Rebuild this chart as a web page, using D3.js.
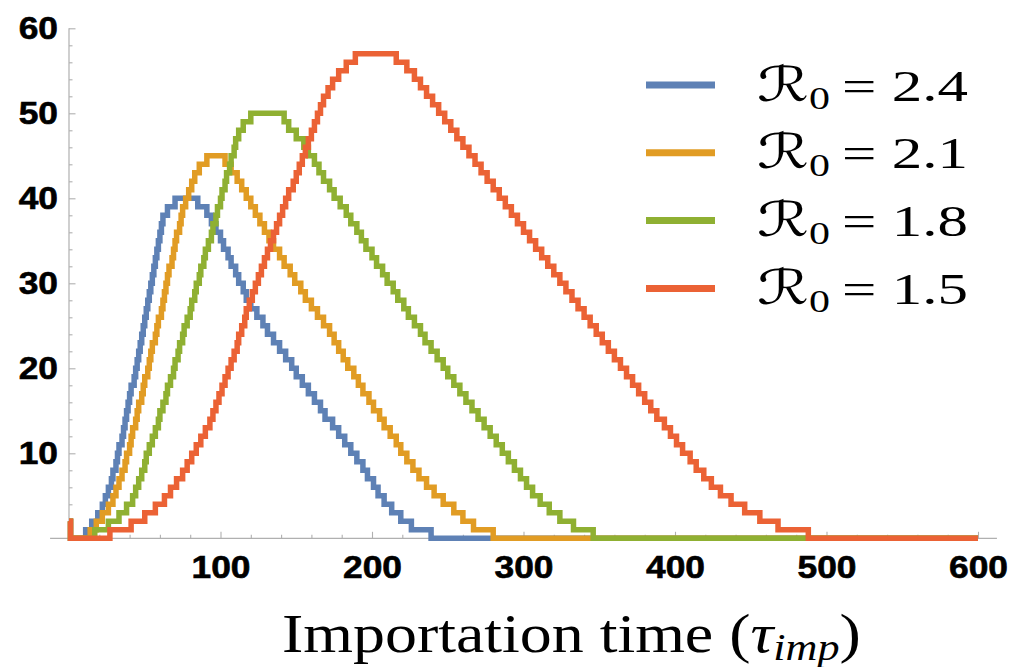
<!DOCTYPE html>
<html>
<head>
<meta charset="utf-8">
<script src="https://cdn.jsdelivr.net/npm/d3@7"></script>
<style>
  body { margin: 0; background: #fff; }
  svg { display: block; }
</style>
</head>
<body>
<svg id="chart" width="1013" height="667"></svg>
<script>
const r0Labels = ['2.4', '2.1', '1.8', '1.5']
const colors = ['#5E81B5', '#E19C24', '#8FB032', '#EB6235']

// every curve starts at 2 at t = 0 and drops to 0 right away
const startValue = 2

// times where each curve steps up by one (value 1, 2, ... peak)
const riseBlue = [11, 15, 19, 22, 24, 26, 28, 29, 31, 32, 33, 35, 36, 37, 38, 39, 40, 41, 43, 44,
  45, 46, 47, 48, 49, 50, 51, 52, 53, 54, 55, 56, 57, 58, 59, 60, 61, 62, 65, 70]
// times where it steps down by one (peak - 1 ... 0)
const fallBlue = [85, 91, 94, 97, 100, 102, 105, 107, 110, 112, 115, 117, 120, 124, 128, 131, 135, 139, 143, 147,
  150, 154, 158, 162, 166, 169, 174, 178, 182, 186, 190, 194, 197, 201, 204, 208, 213, 219, 226, 239]

const riseOrange = [14, 18, 22, 26, 29, 31, 33, 35, 37, 38, 40, 41, 42, 44, 45, 46, 48, 49, 50, 52,
  53, 54, 55, 57, 58, 59, 61, 62, 63, 64, 65, 66, 68, 69, 70, 71, 73, 74, 75, 77, 79, 81, 83, 86, 91]
const fallOrange = [103, 107, 111, 114, 117, 120, 123, 126, 129, 132, 135, 139, 142, 146, 149, 153, 156, 160, 164, 168,
  172, 175, 178, 181, 184, 188, 191, 194, 198, 201, 205, 208, 212, 216, 219, 223, 227, 231, 236, 241,
  247, 254, 260, 267, 280]

const riseGreen = [17, 26, 33, 38, 42, 44, 46, 48, 50, 51, 53, 55, 57, 59, 60, 62, 64, 65, 67, 69,
  70, 72, 73, 75, 76, 78, 80, 81, 83, 84, 86, 87, 89, 90, 92, 94, 95, 97, 98, 100,
  101, 103, 104, 106, 107, 109, 110, 112, 115, 120]
const fallGreen = [142, 145, 150, 155, 158, 162, 165, 168, 172, 175, 179, 183, 186, 190, 193, 196, 200, 203, 207, 210,
  214, 217, 221, 224, 228, 232, 235, 239, 243, 247, 250, 254, 258, 262, 266, 270, 274, 278, 282, 286,
  290, 294, 298, 302, 306, 311, 317, 324, 333, 346]

const riseRed = [27, 41, 50, 57, 63, 67, 71, 75, 78, 81, 84, 87, 90, 93, 95, 97, 99, 101, 103, 105,
  107, 109, 111, 112, 114, 116, 117, 119, 121, 123, 125, 127, 129, 131, 133, 135, 137, 139, 141, 143,
  145, 148, 150, 152, 154, 156, 158, 160, 162, 164, 166, 168, 171, 174, 178, 183, 189]
const fallRed = [216, 223, 228, 232, 236, 240, 244, 248, 252, 256, 260, 264, 268, 272, 276, 280, 284, 288, 292, 296,
  300, 304, 308, 312, 316, 320, 324, 328, 332, 336, 340, 344, 348, 352, 356, 360, 364, 368, 372, 376,
  380, 384, 388, 393, 397, 401, 405, 410, 414, 419, 424, 430, 437, 446, 456, 468, 488]

const xTicks = [100, 200, 300, 400, 500, 600]
const yTicks = [10, 20, 30, 40, 50, 60]
const tMax = 600

const svg = d3.select('#chart')

const x = d3.scaleLinear().domain([0, 600]).range([69, 978])
const y = d3.scaleLinear().domain([0, 60]).range([538.3, 28.3])
const stretch = 1.14 // the reference glyphs are a bit wider than normal

/**
 * Turn rise / fall times into step breakpoints [t, value].
 */
function toSteps (rise, fall) {
  const pts = [[0, startValue], [1, 0]]
  rise.forEach((t, i) => pts.push([t, i + 1]))
  fall.forEach((t, i) => pts.push([t, rise.length - 1 - i]))
  pts.push([tMax, 0])
  return pts
}

const series = [
  toSteps(riseBlue, fallBlue),
  toSteps(riseOrange, fallOrange),
  toSteps(riseGreen, fallGreen),
  toSteps(riseRed, fallRed)
]

// axes
const axisColor = '#b0b0b0'

svg.append('line')
  .attr('x1', x(-12.5)).attr('x2', x(612.5))
  .attr('y1', y(0)).attr('y2', y(0))
  .attr('stroke', axisColor).attr('stroke-width', 1.2)
svg.append('line')
  .attr('x1', x(0)).attr('x2', x(0))
  .attr('y1', y(0)).attr('y2', y(60))
  .attr('stroke', axisColor).attr('stroke-width', 1.2)

const xMinor = d3.range(20, 601, 20).filter(v => !xTicks.includes(v))
const yMinor = d3.range(2, 61, 2).filter(v => !yTicks.includes(v))

svg.append('g')
  .attr('transform', `translate(0,${y(0)})`)
  .call(d3.axisBottom(x).tickValues(xMinor).tickSize(-3.5).tickFormat(''))
  .call(g => g.select('.domain').remove())

svg.append('g')
  .attr('transform', `translate(${x(0)},0)`)
  .call(d3.axisLeft(y).tickValues(yMinor).tickSize(-3.5).tickFormat(''))
  .call(g => g.select('.domain').remove())

const xAxis = svg.append('g')
  .attr('transform', `translate(0,${y(0)})`)
  .call(d3.axisBottom(x).tickValues(xTicks).tickSize(-6.5).tickPadding(18))
  .call(g => g.select('.domain').remove())

const yAxis = svg.append('g')
  .attr('transform', `translate(${x(0)},0)`)
  .call(d3.axisLeft(y).tickValues(yTicks).tickSize(-6.5).tickPadding(11))
  .call(g => g.select('.domain').remove())

svg.selectAll('.tick line').attr('stroke', axisColor).attr('stroke-width', 1.1)

;[xAxis, yAxis].forEach(g => {
  g.selectAll('text')
    .attr('font-family', 'Liberation Sans, Arial, sans-serif')
    .attr('font-weight', 'bold')
    .attr('font-size', 31)
    .attr('fill', '#000')
    .attr('stroke', '#000')
    .attr('stroke-width', 0.6)
    .attr('transform', `scale(${stretch},1)`)
})
yAxis.selectAll('text').attr('x', -11 / stretch)

// curves
const line = d3.line()
  .x(d => x(d[0]))
  .y(d => y(d[1]))
  .curve(d3.curveStepAfter)

svg.append('g')
  .selectAll('path')
  .data(series)
  .enter()
  .append('path')
  .attr('d', line)
  .attr('fill', 'none')
  .attr('stroke', (d, i) => colors[i])
  .attr('stroke-width', 5.5)
  .attr('stroke-linejoin', 'miter')

/**
 * Squeeze or stretch a text horizontally so it runs from left to right.
 */
function fitText (text, left, right, baseline) {
  const b = text.node().getBBox()
  const s = (right - left) / b.width
  text.attr('transform', `translate(${left},${baseline}) scale(${s},1) translate(${-b.x},0)`)
}

// legend
const legend = svg.append('g')
r0Labels.forEach((lab, i) => {
  const cy = 85 + i * 67.8
  legend.append('line')
    .attr('x1', 646).attr('x2', 715)
    .attr('y1', cy).attr('y2', cy)
    .attr('stroke', colors[i])
    .attr('stroke-width', 7)
  const t = legend.append('text')
    .attr('font-family', 'Liberation Serif, DejaVu Serif, serif')
    .attr('font-size', 45)
    .attr('fill', '#000')
  t.append('tspan').attr('font-family', 'DejaVu Serif, DejaVu Sans').attr('font-size', 48).text('\u211B')
  t.append('tspan').attr('font-size', 31).attr('dy', 8).text('0')
  t.append('tspan').attr('dy', -8).text('\u2009= ' + lab)
  fitText(t, 757, 968, cy + 15.5)
})

// x axis title
const title = svg.append('text')
  .attr('font-family', 'Liberation Serif, DejaVu Serif, serif')
  .attr('font-size', 55)
  .attr('fill', '#000')
title.append('tspan').text('Importation time (')
title.append('tspan').attr('font-style', 'italic').text('\u03C4')
title.append('tspan').attr('font-style', 'italic').attr('font-size', 38).attr('dy', 8).text('imp')
title.append('tspan').attr('dy', -8).text(')')
fitText(title, 282, 861, 652)
</script>
</body>
</html>
